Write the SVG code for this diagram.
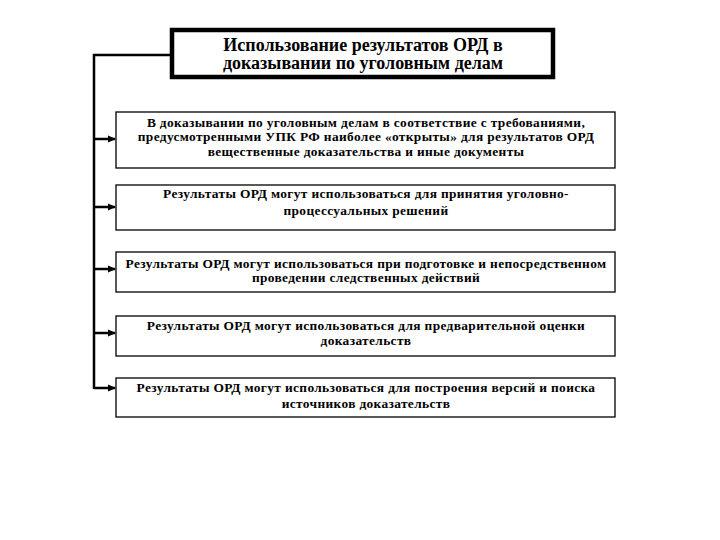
<svg xmlns="http://www.w3.org/2000/svg" width="720" height="540" viewBox="0 0 720 540">
<defs>
<marker id="arr" markerWidth="8" markerHeight="8" refX="7" refY="4" orient="auto" markerUnits="userSpaceOnUse">
<path d="M0,0.5 L8,4 L0,7.5 Z" fill="#000"/>
</marker>
<style>
.box{fill:#fff;stroke:#000;stroke-width:1.3}
.title{fill:#fff;stroke:#000;stroke-width:4.5}
.t{font-family:"Liberation Serif","Times New Roman",serif;font-weight:bold;font-size:13.4px;letter-spacing:0.35px;text-anchor:middle;fill:#000}
.tt{font-family:"Liberation Serif","Times New Roman",serif;font-weight:bold;font-size:18px;text-anchor:middle;fill:#000}
.c{fill:none;stroke:#000;stroke-width:2.5}
</style>
</defs>
<rect width="720" height="540" fill="#fff"/>
<g id="connectors">
<polyline class="c" points="172,55 94,55 94,389"/>
<line class="c" x1="94" y1="139" x2="115" y2="139" marker-end="url(#arr)"/>
<line class="c" x1="94" y1="207" x2="115" y2="207" marker-end="url(#arr)"/>
<line class="c" x1="94" y1="269" x2="115" y2="269" marker-end="url(#arr)"/>
<line class="c" x1="94" y1="333" x2="115" y2="333" marker-end="url(#arr)"/>
<line class="c" x1="94" y1="388" x2="115" y2="388" marker-end="url(#arr)"/>
</g>
<g id="title">
<rect class="title" x="172" y="30" width="381" height="47"/>
<text class="tt" x="363" y="51">Использование результатов ОРД в</text>
<text class="tt" x="363" y="69">доказывании по уголовным делам</text>
</g>
<g id="box1">
<rect class="box" x="116" y="112" width="499" height="56"/>
<text class="t" x="366" y="126.5">В доказывании по уголовным делам в соответствие с требованиями,</text>
<text class="t" x="366" y="141">предусмотренными УПК РФ наиболее  «открыты» для результатов ОРД</text>
<text class="t" x="366" y="155.5">вещественные доказательства и иные документы</text>
</g>
<g id="box2">
<rect class="box" x="116" y="185" width="499" height="45"/>
<text class="t" x="366" y="198">Результаты ОРД могут использоваться для принятия уголовно-</text>
<text class="t" x="366" y="215">процессуальных решений</text>
</g>
<g id="box3">
<rect class="box" x="116" y="252" width="499" height="40"/>
<text class="t" x="366" y="267.5">Результаты ОРД могут использоваться при подготовке и непосредственном</text>
<text class="t" x="366" y="282">проведении следственных действий</text>
</g>
<g id="box4">
<rect class="box" x="116" y="316" width="499" height="40"/>
<text class="t" x="366" y="330">Результаты ОРД могут использоваться для предварительной оценки</text>
<text class="t" x="366" y="345">доказательств</text>
</g>
<g id="box5">
<rect class="box" x="116" y="378" width="499" height="39"/>
<text class="t" x="366" y="392">Результаты ОРД могут использоваться для построения версий и поиска</text>
<text class="t" x="366" y="408">источников доказательств</text>
</g>
</svg>
